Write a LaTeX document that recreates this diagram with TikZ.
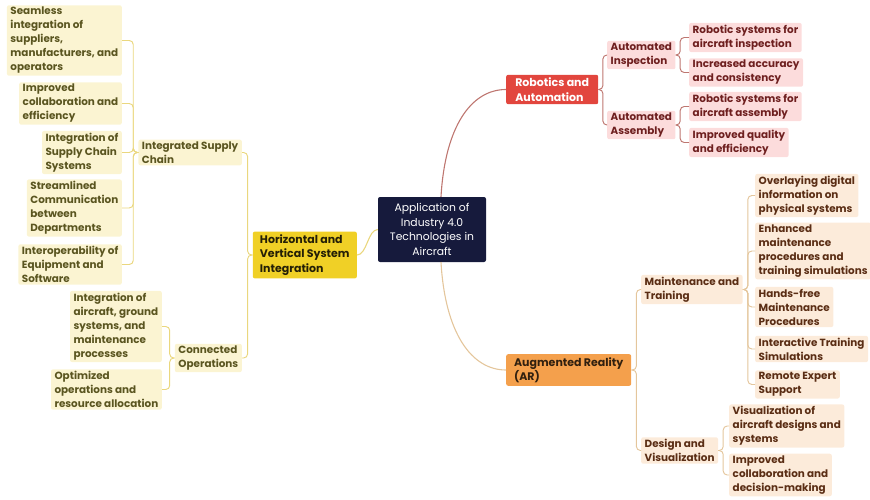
\documentclass[tikz,border=0pt]{standalone}
\usepackage{fontspec}
\setmainfont{Poppins}
\definecolor{navy}{HTML}{161A3C}
\definecolor{ybold}{HTML}{F0D026}
\definecolor{ylight}{HTML}{FBF4D2}
\definecolor{ytext}{HTML}{5A5520}
\definecolor{yline}{HTML}{EAD77E}
\definecolor{rbold}{HTML}{E2463E}
\definecolor{rlight}{HTML}{FCDCDC}
\definecolor{rtext}{HTML}{6E1F1F}
\definecolor{rline}{HTML}{BE7670}
\definecolor{obold}{HTML}{F4A04C}
\definecolor{olight}{HTML}{FCEBDA}
\definecolor{otext}{HTML}{5A2D14}
\definecolor{oline}{HTML}{E4C69C}
\begin{document}
\begin{tikzpicture}[x=1pt,y=-1pt,
  box/.style={rounded corners=2pt, inner xsep=3.5pt, inner ysep=2pt, align=left,
    font=\fontsize{10.4}{14}\selectfont\bfseries},
  leafY/.style={box, fill=ylight, text=ytext},
  leafR/.style={box, fill=rlight, text=rtext},
  leafO/.style={box, fill=olight, text=otext},
  main/.style={box, inner ysep=3pt, inner xsep=5pt, font=\fontsize{11}{14.5}\selectfont\bfseries},
  topY/.style={main, fill=ybold, text=black!85!ybold},
  topR/.style={main, fill=rbold, text=white},
  topO/.style={main, fill=obold, text=black!80!obold},
  root/.style={box, fill=navy, text=white, align=center, font=\fontsize{10.8}{14.5}\selectfont,
    minimum width=108pt, minimum height=65pt},
  ylink/.style={draw=yline, line width=0.95pt, rounded corners=4pt},
  rlink/.style={draw=rline, line width=0.95pt, rounded corners=4pt},
  olink/.style={draw=oline, line width=0.95pt, rounded corners=4pt}
]
\useasboundingbox (0,0) rectangle (870,500);

% root
\node[root] (C) at (432,229.5) {Application of\\Industry 4.0\\Technologies in\\Aircraft};

% left branch: horizontal and vertical system integration
\node[topY, anchor=east, minimum width=104pt] (H) at (357,255) {Horizontal and\\Vertical System\\Integration};
\node[leafY, anchor=east] (ISC) at (242,152.5) {Integrated Supply\\Chain};
\node[leafY, anchor=east] (CO) at (242,358) {Connected\\Operations};
\node[leafY, anchor=east] (l1) at (122,40.5) {Seamless\\integration of\\suppliers,\\manufacturers, and\\operators};
\node[leafY, anchor=east] (l2) at (122,103.5) {Improved\\collaboration and\\efficiency};
\node[leafY, anchor=east] (l3) at (122,152.5) {Integration of\\Supply Chain\\Systems};
\node[leafY, anchor=east] (l4) at (122,208) {Streamlined\\Communication\\between\\Departments};
\node[leafY, anchor=east] (l5) at (122,264.5) {Interoperability of\\Equipment and\\Software};
\node[leafY, anchor=east] (c1) at (162,326.5) {Integration of\\aircraft, ground\\systems, and\\maintenance\\processes};
\node[leafY, anchor=east] (c2) at (162,389.5) {Optimized\\operations and\\resource allocation};

% right branch: robotics and automation
\node[topR, anchor=west, minimum width=92pt] (R) at (506,89.5) {Robotics and\\Automation};
\node[leafR, anchor=west] (AI) at (607,55) {Automated\\Inspection};
\node[leafR, anchor=west] (AA) at (607,125) {Automated\\Assembly};
\node[leafR, anchor=west] (r1) at (689,37.5) {Robotic systems for\\aircraft inspection};
\node[leafR, anchor=west] (r2) at (689,72.5) {Increased accuracy\\and consistency};
\node[leafR, anchor=west] (r3) at (689,106.5) {Robotic systems for\\aircraft assembly};
\node[leafR, anchor=west] (r4) at (689,142.5) {Improved quality\\and efficiency};

% right branch: augmented reality
\node[topO, anchor=west, minimum width=125pt] (AR) at (506,370) {Augmented Reality\\(AR)};
\node[leafO, anchor=west] (MT) at (641,289.5) {Maintenance and\\Training};
\node[leafO, anchor=west] (DV) at (641,450.5) {Design and\\Visualization};
\node[leafO, anchor=west] (m1) at (755,195.5) {Overlaying digital\\information on\\physical systems};
\node[leafO, anchor=west] (m2) at (755,251) {Enhanced\\maintenance\\procedures and\\training simulations};
\node[leafO, anchor=west] (m3) at (755,307) {Hands-free\\Maintenance\\Procedures};
\node[leafO, anchor=west] (m4) at (755,349) {Interactive Training\\Simulations};
\node[leafO, anchor=west] (m5) at (755,384.5) {Remote Expert\\Support};
\node[leafO, anchor=west] (d1) at (729,426) {Visualization of\\aircraft designs and\\systems};
\node[leafO, anchor=west] (d2) at (729,475) {Improved\\collaboration and\\decision-making};

% root connectors
\draw[draw=yline, line width=1.1pt] (C.west) .. controls +(-10,0) and +(10,0) .. (H.east);
\draw[draw=rline, line width=1.1pt] ([xshift=9pt]C.north) .. controls +(4,-70) and +(-35,0) .. (R.west);
\draw[draw=oline, line width=1.1pt] ([xshift=9pt]C.south) .. controls +(4,70) and +(-35,0) .. (AR.west);

% brackets, left side (children to the left of parent)
\foreach \p/\c in {H/ISC, H/CO, ISC/l1, ISC/l2, ISC/l3, ISC/l4, ISC/l5, CO/c1, CO/c2}
  \draw[ylink] (\c.east) -| ([xshift=-5pt]\p.west) -- (\p.west);

% brackets, right side (children to the right of parent)
\foreach \p/\c in {R/AI, R/AA, AI/r1, AI/r2, AA/r3, AA/r4}
  \draw[rlink] (\c.west) -| ([xshift=4.5pt]\p.east) -- (\p.east);
\foreach \p/\c in {AR/MT, AR/DV, MT/m1, MT/m2, MT/m3, MT/m4, MT/m5, DV/d1, DV/d2}
  \draw[olink] (\c.west) -| ([xshift=5pt]\p.east) -- (\p.east);
\end{tikzpicture}
\end{document}
